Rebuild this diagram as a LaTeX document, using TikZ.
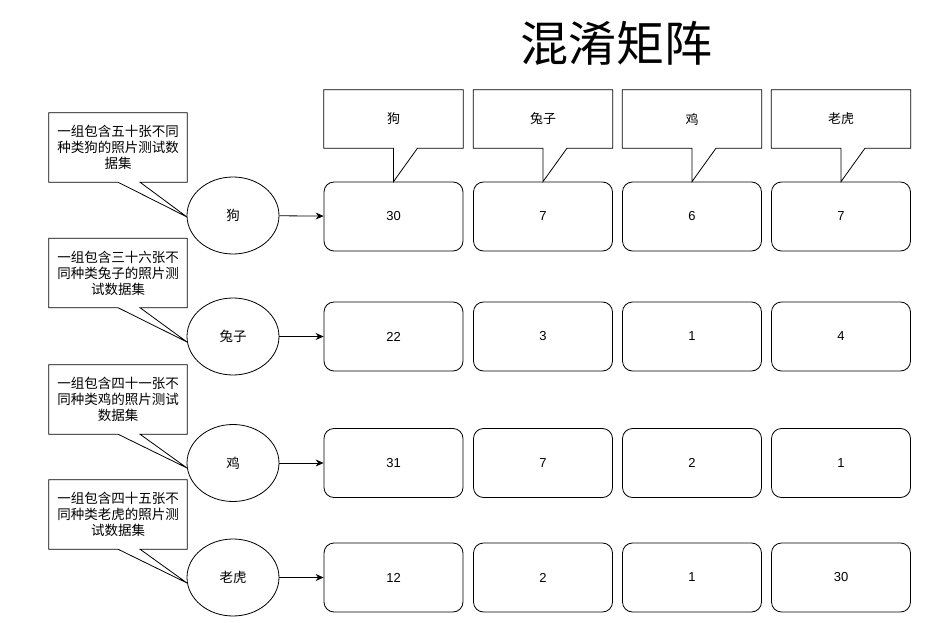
\documentclass[tikz,border=0pt]{standalone}
\usepackage{fontspec}
\setmainfont{Liberation Sans}
\newfontfamily\cjk{Noto Sans CJK SC}
\usetikzlibrary{arrows.meta,shapes.geometric}
\begin{document}
\begin{tikzpicture}[x=1pt,y=-1pt,
  cell/.style={draw=black,line width=0.8pt,rounded corners=10pt,minimum width=139pt,minimum height=69pt,inner sep=0pt,font=\fontsize{13}{16}\selectfont},
  topbox/.style={minimum width=139pt,minimum height=58pt,inner sep=0pt,font=\cjk\fontsize{13}{16}\selectfont},
  leftbox/.style={minimum width=138pt,minimum height=69pt,inner sep=0pt,align=center,font=\cjk\fontsize{13.5}{16}\selectfont},
  callline/.style={draw=black,line width=0.8pt,line join=miter},
  cls/.style={draw=black,line width=0.8pt,ellipse,minimum width=92pt,minimum height=77pt,inner sep=0pt,font=\cjk\fontsize{13.5}{16}\selectfont},
  conn/.style={draw=black,line width=0.8pt,-{Stealth[length=8pt,width=7pt]}}
]
\useasboundingbox (0,0) rectangle (935,623);
\node[font=\cjk\fontsize{48}{56}\selectfont] (title) at (616,43) {混淆矩阵};

% matrix cells
\def\cx{{393.5,543,692.5,841}}
\node[cell] (r11) at (393.5,216.5) {30};
\node[cell] (r12) at (543,216.5) {7};
\node[cell] (r13) at (692,216.5) {6};
\node[cell] (r14) at (841,216.5) {7};
\node[cell] (r21) at (393.5,336.5) {22};
\node[cell] (r22) at (543,336.5) {3};
\node[cell] (r23) at (692,336.5) {1};
\node[cell] (r24) at (841,336.5) {4};
\node[cell] (r31) at (393.5,463) {31};
\node[cell] (r32) at (543,463) {7};
\node[cell] (r33) at (692,463) {2};
\node[cell] (r34) at (841,463) {1};
\node[cell] (r41) at (393.5,577.5) {12};
\node[cell] (r42) at (543,577.5) {2};
\node[cell] (r43) at (692,577.5) {1};
\node[cell] (r44) at (841,577.5) {30};

% top callouts
\node[topbox] (t1) at (393.5,119) {狗};
\node[topbox] (t2) at (543,119) {兔子};
\node[topbox] (t3) at (692,119) {鸡};
\node[topbox] (t4) at (841,119) {老虎};
\foreach \i in {1,2,3,4}{
  \draw[callline] (t\i.south) -- (t\i.south west) -- (t\i.north west) -- (t\i.north east) -- (t\i.south east) -- ([xshift=24pt]t\i.south) -- (r1\i.north) -- cycle;
}

% class ellipses
\node[cls] (e1) at (233,215.5) {狗};
\node[cls] (e2) at (233,336.5) {兔子};
\node[cls] (e3) at (233,463) {鸡};
\node[cls] (e4) at (233,577.5) {老虎};
\draw[conn] (e1) -- (r11);
\draw[conn] (e2) -- (r21);
\draw[conn] (e3) -- (r31);
\draw[conn] (e4) -- (r41);

% left callouts
\node[leftbox] (l1) at (118,147.5) {一组包含五十张不同\\种类狗的照片测试数\\据集};
\node[leftbox] (l2) at (118,273) {一组包含三十六张不\\同种类兔子的照片测\\试数据集};
\node[leftbox] (l3) at (118,399.5) {一组包含四十一张不\\同种类鸡的照片测试\\数据集};
\node[leftbox] (l4) at (118,514.5) {一组包含四十五张不\\同种类老虎的照片测\\试数据集};
\coordinate (p1) at (187,217);
\coordinate (p2) at (187,342);
\coordinate (p3) at (187,468);
\coordinate (p4) at (187,583);
\foreach \i in {1,2,3,4}{
  \draw[callline] (l\i.south) -- (l\i.south west) -- (l\i.north west) -- (l\i.north east) -- (l\i.south east) -- ([xshift=22pt]l\i.south) -- (p\i) -- cycle;
}
\end{tikzpicture}
\end{document}
